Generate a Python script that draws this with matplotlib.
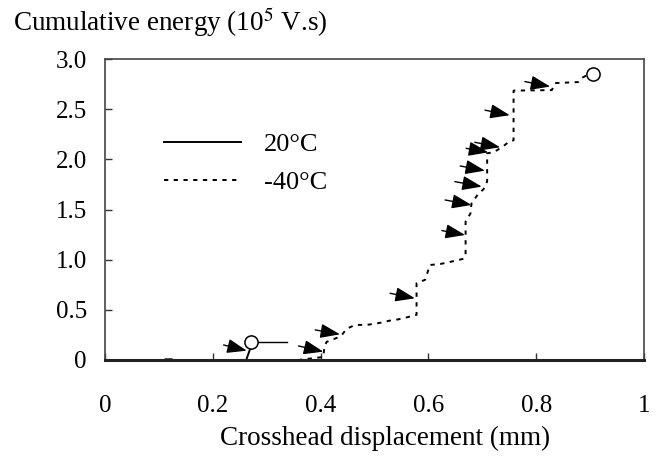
import matplotlib
matplotlib.use("Agg")
import matplotlib.pyplot as plt

# 20 C curve (solid) and its failure point
x_20 = [0.0, 0.11, 0.112, 0.124, 0.126, 0.262, 0.269]
y_20 = [0.0, 0.0, 0.007, 0.007, 0.0, 0.0, 0.107]
end_20 = (0.271, 0.183)
lead_20_x = [0.284, 0.337]
lead_20_y = [0.175, 0.175]

# -40 C curve (dashed) and its failure point
x_m40 = [0.358, 0.405, 0.407, 0.411, 0.43, 0.441, 0.448, 0.464, 0.486, 0.51,
         0.526, 0.544, 0.56, 0.578, 0.578, 0.594, 0.600, 0.603, 0.622, 0.634,
         0.666, 0.669, 0.669, 0.678, 0.680, 0.693, 0.702, 0.709, 0.709, 0.720,
         0.727, 0.739, 0.748, 0.758, 0.758, 0.829, 0.835, 0.878, 0.884, 0.895]
y_m40 = [0.0, 0.03, 0.13, 0.18, 0.22, 0.26, 0.31, 0.35, 0.35, 0.37,
         0.39, 0.405, 0.425, 0.45, 0.765, 0.80, 0.90, 0.947, 0.957, 0.97,
         1.01, 1.05, 1.38, 1.46, 1.56, 1.66, 1.70, 1.78, 2.06, 2.07,
         2.09, 2.13, 2.17, 2.19, 2.685, 2.69, 2.76, 2.77, 2.81, 2.84]
end_m40 = (0.905, 2.85)

# event arrows (tail -> head)
arr_tail_x = [0.22, 0.359, 0.39, 0.529, 0.625, 0.631, 0.649, 0.659, 0.670, 0.686, 0.705, 0.779]
arr_tail_y = [0.15, 0.14, 0.30, 0.665, 1.29, 1.595, 1.778, 1.934, 2.11, 2.17, 2.49, 2.775]
arr_head_x = [0.263, 0.405, 0.436, 0.575, 0.668, 0.680, 0.699, 0.705, 0.711, 0.733, 0.751, 0.826]
arr_head_y = [0.093, 0.083, 0.256, 0.615, 1.246, 1.545, 1.728, 1.887, 2.07, 2.12, 2.44, 2.725]

xticks = [0, 0.2, 0.4, 0.6, 0.8, 1.0]
xticklabels = ["0", "0.2", "0.4", "0.6", "0.8", "1"]
yticks = [0, 0.5, 1.0, 1.5, 2.0, 2.5, 3.0]
yticklabels = ["0", "0.5", "1.0", "1.5", "2.0", "2.5", "3.0"]

plt.rcParams['font.family'] = ['Liberation Serif', 'DejaVu Serif']
plt.rcParams['mathtext.fontset'] = 'stix'

fig = plt.figure(figsize=(6.6, 4.58), dpi=100)
ax = fig.add_axes([105/660, 1 - 360/458, 539/660, 301/458])

ax.plot(x_20, y_20, color='black', lw=1.4, label='20\u00b0C')
ax.plot(lead_20_x, lead_20_y, color='black', lw=1.0)
ax.plot(*end_20, marker='o', ms=9.5, mfc='white', mec='black', mew=1.1, ls='none')

ax.plot(x_m40, y_m40, color='black', lw=1.4, ls=(0, (2.2, 2.8)), label='-40\u00b0C')
ax.plot(*end_m40, marker='o', ms=9.5, mfc='white', mec='black', mew=1.1, ls='none')

for tx, ty, hx, hy in zip(arr_tail_x, arr_tail_y, arr_head_x, arr_head_y):
    ax.annotate('', xy=(hx, hy), xytext=(tx, ty),
                arrowprops=dict(arrowstyle='-|>,head_length=0.6,head_width=0.22',
                                mutation_scale=20, color='black', lw=1.0,
                                shrinkA=0, shrinkB=0))

ax.set_xlim(0, 1)
ax.set_ylim(0, 3.0)
ax.set_xticks(xticks)
ax.set_xticklabels(xticklabels)
ax.set_yticks(yticks)
ax.set_yticklabels(yticklabels)
ax.tick_params(direction='in', length=5, width=1, labelsize=18, color='#333333')
ax.tick_params(axis='x', pad=25)
ax.tick_params(axis='y', pad=13)

for side in ['top', 'right', 'left']:
    ax.spines[side].set_linewidth(1.2)
    ax.spines[side].set_color('#444444')
ax.spines['bottom'].set_linewidth(2.2)
ax.spines['bottom'].set_color('#222222')

ax.legend(loc='center left', bbox_to_anchor=(0.11, 0.653), frameon=False,
          fontsize=19, handlelength=2.9, handletextpad=0.87, labelspacing=0.55,
          borderpad=0, borderaxespad=0)

fig.text(13/660, 1 - 22/458, 'Cumulative energy (10$^5$ V.s)', fontsize=19.5, va='center', ha='left')
fig.text(385/660, 1 - 438/458, 'Crosshead displacement (mm)', fontsize=19.5, va='center', ha='center')

fig.savefig('out.png', dpi=100)
